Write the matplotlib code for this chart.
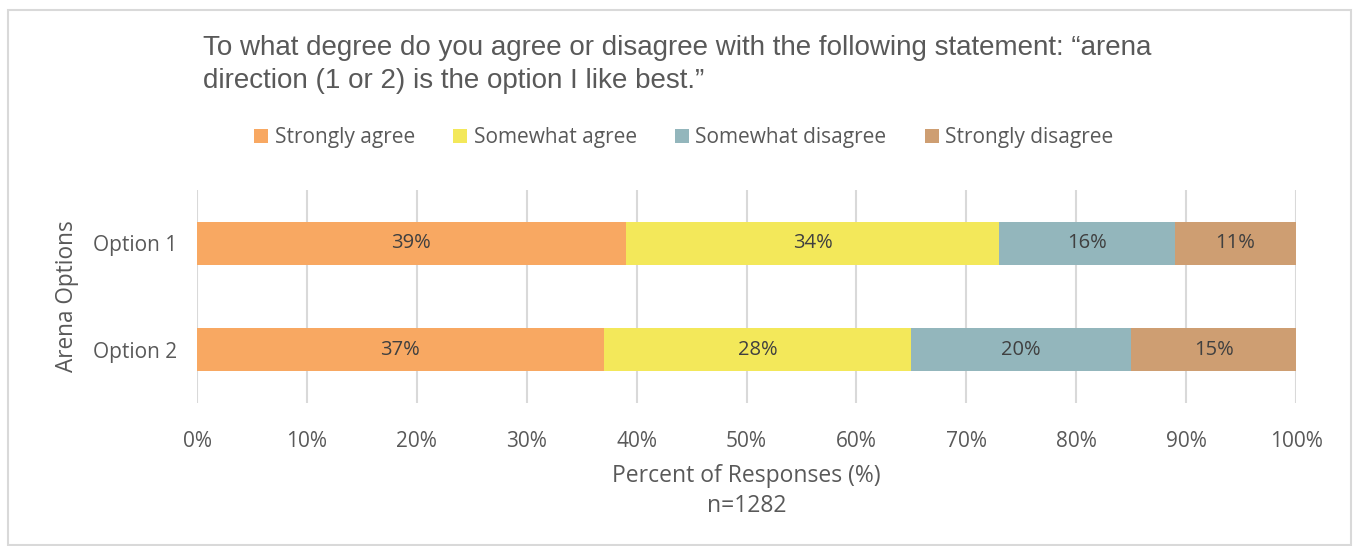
import matplotlib.pyplot as plt
from matplotlib.patches import Rectangle, Patch

# survey answers, percent of responses
options = ['Option 1', 'Option 2']
answers = ['Strongly agree', 'Somewhat agree', 'Somewhat disagree', 'Strongly disagree']
strongly_agree = [39, 37]
somewhat_agree = [34, 28]
somewhat_disagree = [16, 20]
strongly_disagree = [11, 15]
xticks = [0, 10, 20, 30, 40, 50, 60, 70, 80, 90, 100]

colors = ['#F8A862', '#F3E85A', '#93B6BC', '#CE9E72']
txt = '#595959'
font = 'Open Sans'

fig = plt.figure(figsize=(13.53, 5.46), dpi=100)
fig.patches.append(Rectangle((8 / 1353, 0.002), 1343 / 1353, 1 - 11 / 546,
                             transform=fig.transFigure, fill=False,
                             edgecolor='#D9D9D9', linewidth=1.5))

ax = fig.add_axes([197 / 1353, 1 - 403 / 546, 1099 / 1353, 213 / 546])

series = [strongly_agree, somewhat_agree, somewhat_disagree, strongly_disagree]
left = [0, 0]
for name, vals, col in zip(answers, series, colors):
    bars = ax.barh(options, vals, left=left, height=0.4, color=col, label=name, zorder=2)
    ax.bar_label(bars, labels=[f'{v}%' for v in vals], label_type='center',
                 color='#404040', fontsize=14.5, family=font)
    left = [a + b for a, b in zip(left, vals)]

ax.set_xlim(0, 100)
ax.set_ylim(1.5, -0.5)
ax.set_xticks(xticks)
ax.set_xticklabels([f'{t}%' for t in xticks])
ax.grid(axis='x', color='#D9D9D9', linewidth=1.5, zorder=0)
for s in ax.spines.values():
    s.set_visible(False)
ax.tick_params(length=0, labelsize=15, labelcolor=txt)
ax.tick_params(axis='x', pad=20)
ax.tick_params(axis='y', pad=14)
for lab in ax.get_xticklabels() + ax.get_yticklabels():
    lab.set_family(font)

ax.set_xlabel('Percent of Responses (%)\nn=1282', fontsize=16.5, color=txt,
              family=font, labelpad=9, linespacing=1.3)
ax.set_ylabel('Arena Options', fontsize=16.3, color=txt, family=font, labelpad=10)

fig.text(203 / 1353, 1 - 35 / 546,
         'To what degree do you agree or disagree with the following statement: \u201carena\n'
         'direction (1 or 2) is the option I like best.\u201d',
         ha='left', va='top', fontsize=20, color=txt, family='Liberation Sans',
         linespacing=1.37)

handles = [Patch(facecolor=c, label=a) for a, c in zip(answers, colors)]
fig.legend(handles=handles, loc='center', bbox_to_anchor=(684 / 1353, 1 - 138 / 546),
           ncol=4, frameon=False, handlelength=0.67, handleheight=0.67,
           handletextpad=0.3, columnspacing=1.85,
           prop={'family': font, 'size': 15}, labelcolor=txt)

fig.savefig('out.png', dpi=100)
